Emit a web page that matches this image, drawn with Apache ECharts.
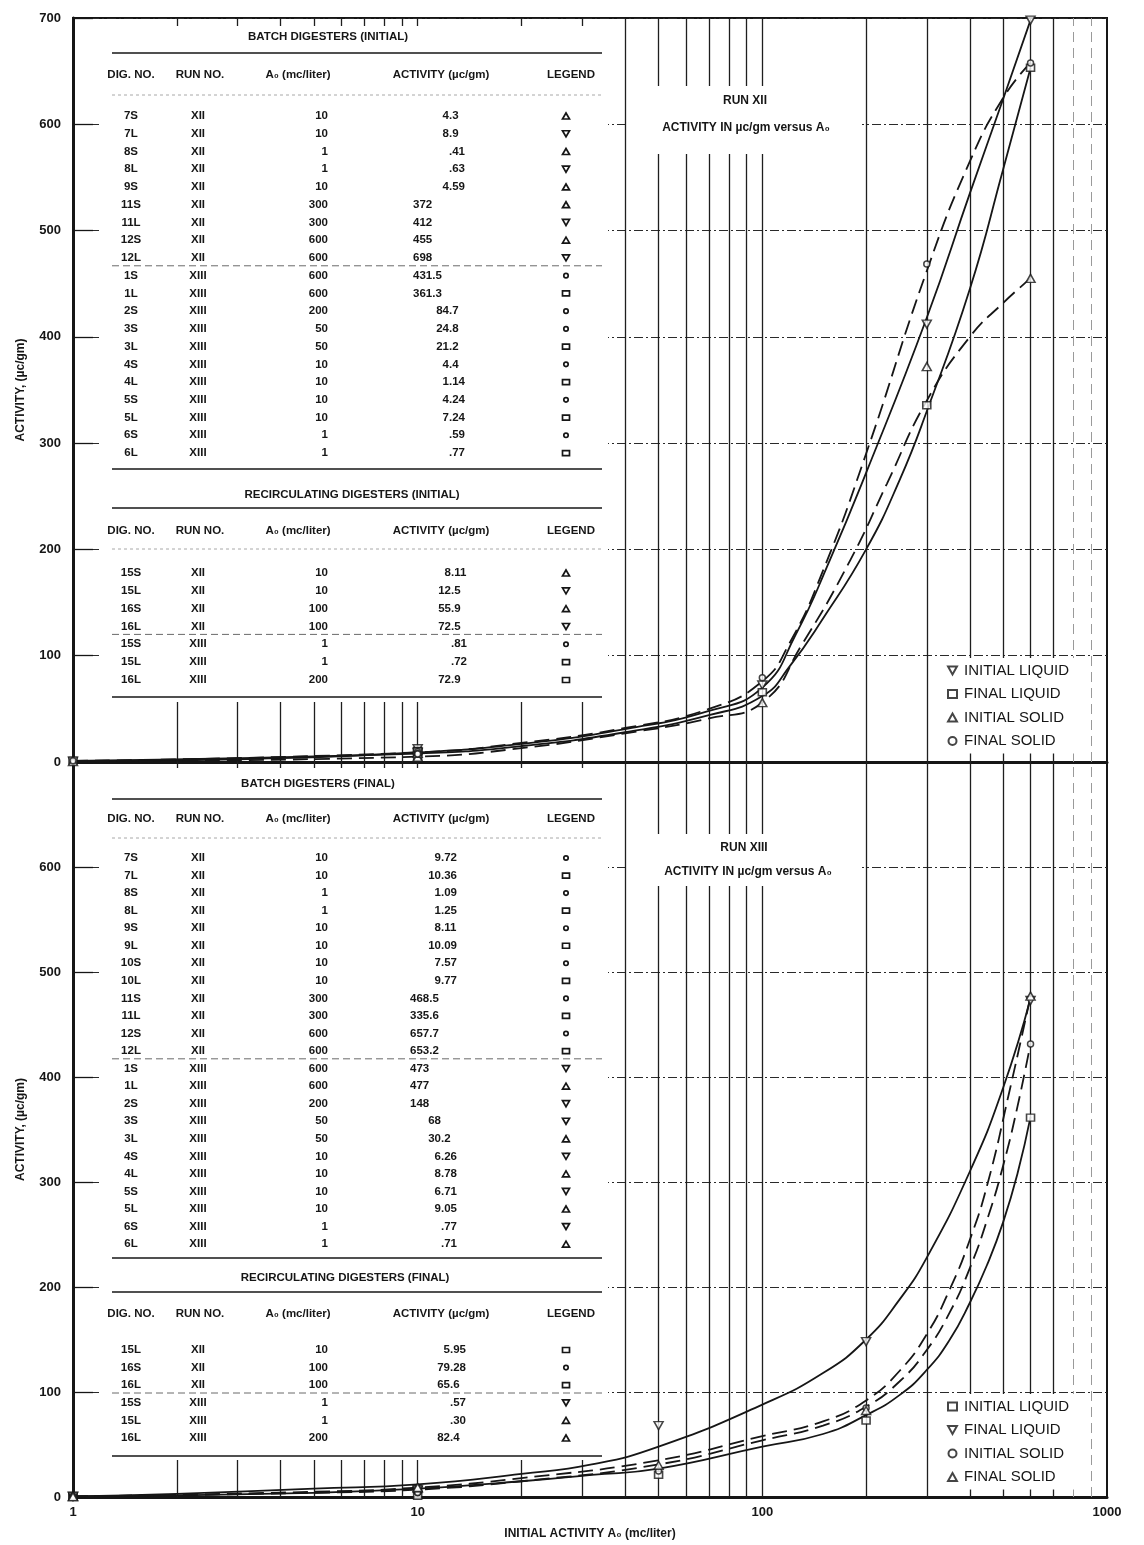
<!DOCTYPE html>
<html>
<head>
<meta charset="utf-8">
<script src="https://cdn.jsdelivr.net/npm/echarts@6/dist/echarts.min.js"></script>
<style>
  html, body { margin: 0; padding: 0; background: #fff; }
  #chart { width: 1144px; height: 1545px; }
</style>
</head>
<body>
<div id="chart"></div>
<script>
// ---------- table rows: [digester, run, A0 (mc/liter), activity (µc/gm), legend symbol] ----------
const batchInitial = [
  ['7S', 'XII', '10', '4.3', 'up'],
  ['7L', 'XII', '10', '8.9', 'down'],
  ['8S', 'XII', '1', '.41', 'up'],
  ['8L', 'XII', '1', '.63', 'down'],
  ['9S', 'XII', '10', '4.59', 'up'],
  ['11S', 'XII', '300', '372', 'up'],
  ['11L', 'XII', '300', '412', 'down'],
  ['12S', 'XII', '600', '455', 'up'],
  ['12L', 'XII', '600', '698', 'down'],
  ['1S', 'XIII', '600', '431.5', 'circle'],
  ['1L', 'XIII', '600', '361.3', 'square'],
  ['2S', 'XIII', '200', '84.7', 'circle'],
  ['3S', 'XIII', '50', '24.8', 'circle'],
  ['3L', 'XIII', '50', '21.2', 'square'],
  ['4S', 'XIII', '10', '4.4', 'circle'],
  ['4L', 'XIII', '10', '1.14', 'square'],
  ['5S', 'XIII', '10', '4.24', 'circle'],
  ['5L', 'XIII', '10', '7.24', 'square'],
  ['6S', 'XIII', '1', '.59', 'circle'],
  ['6L', 'XIII', '1', '.77', 'square']
];
const recircInitial = [
  ['15S', 'XII', '10', '8.11', 'up'],
  ['15L', 'XII', '10', '12.5', 'down'],
  ['16S', 'XII', '100', '55.9', 'up'],
  ['16L', 'XII', '100', '72.5', 'down'],
  ['15S', 'XIII', '1', '.81', 'circle'],
  ['15L', 'XIII', '1', '.72', 'square'],
  ['16L', 'XIII', '200', '72.9', 'square']
];
const batchFinal = [
  ['7S', 'XII', '10', '9.72', 'circle'],
  ['7L', 'XII', '10', '10.36', 'square'],
  ['8S', 'XII', '1', '1.09', 'circle'],
  ['8L', 'XII', '1', '1.25', 'square'],
  ['9S', 'XII', '10', '8.11', 'circle'],
  ['9L', 'XII', '10', '10.09', 'square'],
  ['10S', 'XII', '10', '7.57', 'circle'],
  ['10L', 'XII', '10', '9.77', 'square'],
  ['11S', 'XII', '300', '468.5', 'circle'],
  ['11L', 'XII', '300', '335.6', 'square'],
  ['12S', 'XII', '600', '657.7', 'circle'],
  ['12L', 'XII', '600', '653.2', 'square'],
  ['1S', 'XIII', '600', '473', 'down'],
  ['1L', 'XIII', '600', '477', 'up'],
  ['2S', 'XIII', '200', '148', 'down'],
  ['3S', 'XIII', '50', '68', 'down'],
  ['3L', 'XIII', '50', '30.2', 'up'],
  ['4S', 'XIII', '10', '6.26', 'down'],
  ['4L', 'XIII', '10', '8.78', 'up'],
  ['5S', 'XIII', '10', '6.71', 'down'],
  ['5L', 'XIII', '10', '9.05', 'up'],
  ['6S', 'XIII', '1', '.77', 'down'],
  ['6L', 'XIII', '1', '.71', 'up']
];
const recircFinal = [
  ['15L', 'XII', '10', '5.95', 'square'],
  ['16S', 'XII', '100', '79.28', 'circle'],
  ['16L', 'XII', '100', '65.6', 'square'],
  ['15S', 'XIII', '1', '.57', 'down'],
  ['15L', 'XIII', '1', '.30', 'up'],
  ['16L', 'XIII', '200', '82.4', 'up']
];

// ---------- legend roles per run (symbol -> name) ----------
const runXIIRoles = [['down', 'INITIAL LIQUID'], ['square', 'FINAL LIQUID'], ['up', 'INITIAL SOLID'], ['circle', 'FINAL SOLID']];
const runXIIIRoles = [['square', 'INITIAL LIQUID'], ['down', 'FINAL LIQUID'], ['circle', 'INITIAL SOLID'], ['up', 'FINAL SOLID']];

// ---------- faired curves, [A0, activity] ----------
const xiiInitialLiquidCurve = [[1, 0.6], [3, 2.5], [10, 9], [20, 17], [40, 31], [70, 48], [100, 70], [125, 120], [157, 190], [200, 272], [300, 418], [400, 535], [500, 624], [600, 698]];
const xiiFinalLiquidCurve = [[1, 1], [10, 8], [20, 15], [40, 28], [70, 44], [100, 62], [120, 90], [150, 135], [200, 200], [250, 265], [300, 330], [400, 445], [500, 558], [600, 653]];
const xiiInitialSolidCurve = [[1, 0.4], [10, 5], [20, 13], [40, 27], [70, 41], [100, 56], [130, 110], [180, 190], [230, 262], [300, 340], [400, 400], [500, 432], [600, 455]];
const xiiFinalSolidCurve = [[1, 1], [10, 9], [20, 18], [40, 32], [70, 50], [100, 76], [120, 112], [150, 180], [200, 290], [300, 462], [400, 565], [500, 625], [600, 658]];

const xiiiFinalLiquidCurve = [[1, 0.5], [2, 3], [5, 8], [10, 12], [20, 22], [32, 31], [50, 48], [100, 88], [150, 118], [200, 150], [250, 188], [300, 228], [400, 310], [500, 390], [600, 475]];
const xiiiInitialLiquidCurve = [[1, 0.5], [5, 4], [10, 8], [20, 15], [32, 21], [50, 27], [100, 48], [150, 60], [200, 78], [250, 97], [300, 121], [350, 150], [400, 185], [450, 222], [500, 262], [550, 308], [600, 362]];
const xiiiFinalSolidCurve = [[1, 0.3], [5, 5], [10, 9], [20, 18], [50, 35], [100, 58], [150, 72], [200, 92], [250, 120], [300, 155], [350, 198], [400, 245], [450, 298], [520, 385], [600, 477]];
const xiiiInitialSolidCurve = [[1, 0.6], [5, 4], [10, 7], [20, 15], [50, 31], [100, 54], [150, 68], [200, 86], [250, 110], [300, 140], [350, 176], [400, 218], [450, 265], [500, 316], [550, 372], [600, 432]];

// ---------- axes ----------
const yTicks = [0, 100, 200, 300, 400, 500, 600, 700];
const xDecadeLabels = ['1', '10', '100', '1000'];
const gridA0 = [2, 3, 4, 5, 6, 7, 8, 9, 10, 20, 30, 40, 50, 60, 70, 80, 90, 100, 200, 300, 400, 500, 600, 700];
const faintGridA0 = [800, 900];

// ---------- style ----------
const INK = '#161616';
const FONT = "'Liberation Sans Narrow', 'Liberation Sans', 'DejaVu Sans Condensed', sans-serif";
const SYMBOL = {
  up: 'path://M5,0L10,9L0,9Z',
  down: 'path://M0,0L10,0L5,9Z',
  square: 'rect',
  circle: 'circle'
};
const SYMBOL_SIZE = { up: [9, 8], down: [9, 8], square: [8, 7], circle: 6 };

const allRows = batchInitial.concat(recircInitial, batchFinal, recircFinal);

function markerSeries(run, roles, idx) {
  return roles.map(([sym, name]) => ({
    type: 'scatter',
    name: name,
    xAxisIndex: idx, yAxisIndex: idx,
    symbol: SYMBOL[sym],
    symbolSize: SYMBOL_SIZE[sym],
    itemStyle: { color: '#fff', borderColor: INK, borderWidth: 1.5 },
    z: 5,
    data: allRows.filter(r => r[1] === run && r[4] === sym).map(r => [Number(r[2]), parseFloat(r[3])])
  }));
}

function curveSeries(data, dashed, idx, id) {
  return {
    type: 'line', id: id, xAxisIndex: idx, yAxisIndex: idx,
    data: data, smooth: 0.5, showSymbol: false, symbol: 'none', silent: true, z: 4,
    lineStyle: { color: INK, width: 1.8, type: dashed ? [15, 7] : 'solid' }
  };
}

function gridLineSeries(idx) {
  const items = gridA0.map(v => ({ xAxis: v, lineStyle: { color: '#1e1e1e', width: 1.3, type: 'solid' } }))
    .concat(faintGridA0.map(v => ({ xAxis: v, lineStyle: { color: '#9a9a9a', width: 1, type: [10, 6] } })));
  return {
    type: 'line', id: 'vgrid' + idx, xAxisIndex: idx, yAxisIndex: idx, data: [], silent: true, z: 1,
    markLine: { silent: true, symbol: 'none', z: 1, label: { show: false }, data: items }
  };
}

// ---------- tables drawn as graphics ----------
const COL = { dig: 131, run: 198, a0: 328, legend: 566 };
const TFONT = 'bold 11.5px ' + FONT;

function txt(x, y, text, align, font, fill) {
  return {
    type: 'text', x: x, y: y, z: 6, silent: true,
    style: { text: text, font: font || TFONT, fill: fill || INK, align: align, verticalAlign: 'middle', textAlign: align, textVerticalAlign: 'middle' }
  };
}
function rule(x1, x2, y, dash, color, width) {
  return {
    type: 'line', z: 6, silent: true,
    shape: { x1: x1, y1: y, x2: x2, y2: y },
    style: { stroke: color || INK, lineWidth: width || 1.3, lineDash: dash || null }
  };
}
function tableSymbol(kind, x, y) {
  const style = { stroke: INK, lineWidth: 1.7, fill: '#fff' };
  if (kind === 'up') return { type: 'polygon', z: 6, silent: true, shape: { points: [[x - 3.5, y + 3], [x + 3.5, y + 3], [x, y - 3]] }, style: style };
  if (kind === 'down') return { type: 'polygon', z: 6, silent: true, shape: { points: [[x - 3.5, y - 3], [x + 3.5, y - 3], [x, y + 3]] }, style: style };
  if (kind === 'square') return { type: 'rect', z: 6, silent: true, shape: { x: x - 3.5, y: y - 2.5, width: 7, height: 5 }, style: style };
  return { type: 'circle', z: 6, silent: true, shape: { cx: x, cy: y, r: 2.2 }, style: style };
}

function tableBlock(rows, title, L) {
  const els = [];
  els.push(txt(L.cx, L.titleY, title, 'center'));
  els.push(rule(112, 602, L.rule1));
  els.push(txt(COL.dig, L.headY, 'DIG. NO.', 'center'));
  els.push(txt(COL.run + 2, L.headY, 'RUN NO.', 'center'));
  els.push(txt(298, L.headY, 'A\u2080 (mc/liter)', 'center'));
  els.push(txt(441, L.headY, 'ACTIVITY (\u00b5c/gm)', 'center'));
  els.push(txt(571, L.headY, 'LEGEND', 'center'));
  if (L.rule2) els.push(rule(112, 602, L.rule2, [3, 3], '#a8a8a8', 1));
  rows.forEach((r, i) => {
    const y = L.row0 + i * L.step;
    els.push(txt(COL.dig, y, r[0], 'center'));
    els.push(txt(COL.run, y, r[1], 'center'));
    els.push(txt(COL.a0, y, r[2], 'right'));
    const v = parseFloat(r[3]);
    if (v >= 100) {
      els.push(txt(L.actLeft, y, r[3], 'left'));
    } else {
      const k = r[3].indexOf('.');
      const ip = k < 0 ? r[3] : r[3].slice(0, k);
      const fp = k < 0 ? '' : r[3].slice(k);
      if (ip) els.push(txt(L.actDot, y, ip, 'right'));
      if (fp) els.push(txt(L.actDot, y, fp, 'left'));
    }
    els.push(tableSymbol(r[4], COL.legend, y));
    if (i > 0 && r[1] !== rows[i - 1][1]) els.push(rule(112, 602, y - L.step / 2 - 1, [7, 4], '#6a6a6a', 1));
  });
  els.push(rule(112, 602, L.endY));
  return els;
}

const cover = (x, y, w, h) => ({ type: 'rect', z: 3, silent: true, shape: { x: x, y: y, width: w, height: h }, style: { fill: '#fff' } });

const graphics = [
  cover(100, 26, 508, 676),
  cover(100, 768, 508, 692),
  cover(628, 86, 234, 68),
  cover(628, 834, 234, 52),
  txt(745, 101, 'RUN XII', 'center', 'bold 12px ' + FONT),
  txt(746, 128, 'ACTIVITY IN \u00b5c/gm versus A\u2080', 'center', 'bold 12px ' + FONT),
  txt(744, 848, 'RUN XIII', 'center', 'bold 12px ' + FONT),
  txt(748, 872, 'ACTIVITY IN \u00b5c/gm versus A\u2080', 'center', 'bold 12px ' + FONT)
].concat(
  tableBlock(batchInitial, 'BATCH DIGESTERS (INITIAL)', { cx: 328, titleY: 37, rule1: 53, headY: 75, rule2: 95, row0: 116, step: 17.74, endY: 469, actDot: 449, actLeft: 413 }),
  tableBlock(recircInitial, 'RECIRCULATING DIGESTERS (INITIAL)', { cx: 352, titleY: 495, rule1: 508, headY: 531, rule2: 549, row0: 573, step: 17.83, endY: 697, actDot: 451, actLeft: 413 }),
  tableBlock(batchFinal, 'BATCH DIGESTERS (FINAL)', { cx: 318, titleY: 784, rule1: 799, headY: 819, rule2: 838, row0: 858, step: 17.55, endY: 1258, actDot: 441, actLeft: 410 }),
  tableBlock(recircFinal, 'RECIRCULATING DIGESTERS (FINAL)', { cx: 345, titleY: 1278, rule1: 1292, headY: 1314, rule2: null, row0: 1350, step: 17.6, endY: 1456, actDot: 450, actLeft: 413 })
);

// ---------- axes ----------
function xAxisFor(idx, showLabels) {
  return {
    gridIndex: idx, type: 'log', logBase: 10, min: 1, max: 1000,
    axisLine: { show: true, lineStyle: { color: INK, width: 3 } },
    axisTick: { show: false },
    splitLine: { show: false },
    axisLabel: {
      show: showLabels, color: INK, fontFamily: FONT, fontWeight: 'bold', fontSize: 13, margin: 9,
      formatter: v => xDecadeLabels[Math.round(Math.log10(v))]
    },
    name: showLabels ? 'INITIAL ACTIVITY A\u2080 (mc/liter)' : '',
    nameLocation: 'middle', nameGap: 31,
    nameTextStyle: { color: INK, fontFamily: FONT, fontWeight: 'bold', fontSize: 12 }
  };
}
function yAxisFor(idx, hideTop) {
  return {
    gridIndex: idx, type: 'value', min: yTicks[0], max: yTicks[yTicks.length - 1], interval: 100,
    axisLine: { show: true, lineStyle: { color: INK, width: 3 } },
    axisTick: { show: true, inside: true, length: 20, lineStyle: { color: INK, width: 1.3 } },
    axisLabel: {
      color: INK, fontFamily: FONT, fontWeight: 'bold', fontSize: 13, margin: 12,
      formatter: v => (hideTop && v === 700) ? '' : String(v)
    },
    splitLine: { show: true, lineStyle: { color: '#2a2a2a', width: 1, type: [9, 3, 2, 3] } },
    name: 'ACTIVITY, (\u00b5c/gm)', nameLocation: 'middle', nameRotate: 90, nameGap: 46,
    nameTextStyle: { color: INK, fontFamily: FONT, fontWeight: 'bold', fontSize: 12 }
  };
}

function legendFor(roles, top) {
  return {
    orient: 'vertical', left: 941, top: top, selectedMode: false,
    itemWidth: 9, itemHeight: 8, itemGap: 8.5,
    backgroundColor: '#fff', padding: [5, 6, 5, 6],
    textStyle: { color: INK, fontFamily: FONT, fontSize: 15, padding: [0, 0, 0, 2] },
    data: roles.map(([sym, name]) => ({ name: name, icon: SYMBOL[sym] }))
  };
}

const option = {
  backgroundColor: '#fff',
  animation: false,
  grid: [
    { left: 73, top: 18, width: 1034, height: 744, show: true, borderColor: INK, borderWidth: 2, backgroundColor: 'transparent' },
    { left: 73, top: 762, width: 1034, height: 735, show: true, borderColor: INK, borderWidth: 2, backgroundColor: 'transparent' }
  ],
  xAxis: [xAxisFor(0, false), xAxisFor(1, true)],
  yAxis: [yAxisFor(0, false), yAxisFor(1, true)],
  legend: [legendFor(runXIIRoles, 658), legendFor(runXIIIRoles, 1394)],
  graphic: { elements: graphics },
  series: [
    gridLineSeries(0),
    gridLineSeries(1),
    curveSeries(xiiInitialLiquidCurve, false, 0, 'c-xii-il'),
    curveSeries(xiiFinalLiquidCurve, false, 0, 'c-xii-fl'),
    curveSeries(xiiInitialSolidCurve, true, 0, 'c-xii-is'),
    curveSeries(xiiFinalSolidCurve, true, 0, 'c-xii-fs'),
    curveSeries(xiiiFinalLiquidCurve, false, 1, 'c-xiii-fl'),
    curveSeries(xiiiInitialLiquidCurve, false, 1, 'c-xiii-il'),
    curveSeries(xiiiFinalSolidCurve, true, 1, 'c-xiii-fs'),
    curveSeries(xiiiInitialSolidCurve, true, 1, 'c-xiii-is')
  ].concat(markerSeries('XII', runXIIRoles, 0), markerSeries('XIII', runXIIIRoles, 1))
};

const chart = echarts.init(document.getElementById('chart'), null, { renderer: 'canvas' });
chart.setOption(option);
</script>
</body>
</html>
